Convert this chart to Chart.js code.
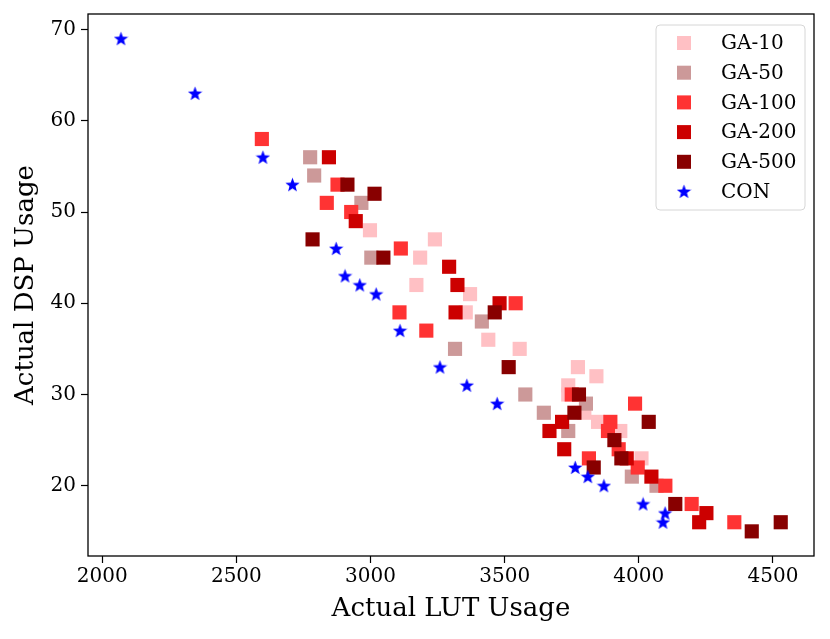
<!DOCTYPE html>
<html>
<head>
<meta charset="utf-8">
<script src="https://cdn.jsdelivr.net/npm/chart.js@4.4.1/dist/chart.umd.min.js"></script>
<style>
  body { margin: 0; background: #fff; }
  #wrap { width: 830px; height: 639px; }
</style>
</head>
<body>
<div id="wrap"><canvas id="myChart" width="830" height="639"></canvas></div>
<script>
// data: [LUT, DSP]
const ga10 = [[2998,48],[3240,47],[3185,45],[3171,42],[3371,41],[3355,39],[3439,36],[3556,35],
  [3773,33],[3842,32],[3737,31],[3737,30],[3797,28],[3848,27],[3931,26],[4010,23]];
const ga50 = [[2775,56],[2790,54],[2966,51],[3003,45],[3415,38],[3315,35],[3577,30],[3646,28],
  [3803,29],[3737,26],[3974,21],[4066,20]];
const ga100 = [[2595,58],[2877,53],[2837,51],[2928,50],[3113,46],[3541,40],[3108,39],[3208,37],
  [3750,30],[3894,27],[3885,26],[3925,24],[3814,23],[3996,22],[3986,29],[4099,20],[4197,18],[4356,16]];
const ga200 = [[2845,56],[2945,49],[3293,44],[3324,42],[3481,40],[3317,39],[3714,27],[3667,26],
  [3722,24],[3955,23],[4047,21],[4252,17],[4225,16]];
const ga500 = [[2914,53],[3015,52],[2784,47],[3048,45],[3463,39],[3515,33],[3777,30],[3760,28],
  [3909,25],[3935,23],[3832,22],[4037,27],[4136,18],[4421,15],[4529,16]];
const con = [[2070,69],[2346,63],[2599,56],[2709,53],[2872,46],[2905,43],[2960,42],[3021,41],
  [3110,37],[3259,33],[3359,31],[3472,29],[3763,22],[3810,21],[3870,20],[4016,18],[4098,17],[4090,16]];

const xTicks = [2000, 2500, 3000, 3500, 4000, 4500];
const yTicks = [20, 30, 40, 50, 60, 70];

const FONT = "'DejaVu Serif', serif";

// filled star for CON (Chart.js 'star' is only strokes)
function makeStar(size, color) {
  const c = document.createElement('canvas');
  c.width = size; c.height = size;
  const g = c.getContext('2d');
  const cx = size / 2, cy = size / 2 + 0.6, R = size / 2, r = R * 0.42;
  g.beginPath();
  for (let i = 0; i < 10; i++) {
    const rad = i % 2 ? r : R;
    const a = -Math.PI / 2 + i * Math.PI / 5;
    g.lineTo(cx + rad * Math.cos(a), cy + rad * Math.sin(a));
  }
  g.closePath();
  g.fillStyle = color;
  g.fill();
  return c;
}
const star = makeStar(15, '#0000ff');

function toPts(arr) {
  return arr.map(p => ({ x: p[0], y: p[1] }));
}

function sq(label, arr, color, order) {
  return {
    label: label,
    data: toPts(arr),
    pointStyle: 'rect',
    pointRadius: 10,
    pointHoverRadius: 10,
    borderWidth: 0,
    backgroundColor: color,
    borderColor: color,
    order: order
  };
}

const datasets = [
  sq('GA-10', ga10, '#ffc0c4', 6),
  sq('GA-50', ga50, '#cc9999', 5),
  sq('GA-100', ga100, '#ff3333', 4),
  sq('GA-200', ga200, '#cc0000', 3),
  sq('GA-500', ga500, '#880000', 2),
  {
    label: 'CON',
    data: toPts(con),
    pointStyle: star,
    pointRadius: 8,
    backgroundColor: '#0000ff',
    borderColor: '#0000ff',
    order: 1
  }
];

// frame + legend drawn inside the plot, like matplotlib
const framePlugin = {
  id: 'frame',
  afterDraw(chart) {
    const { ctx, chartArea: a } = chart;
    ctx.save();
    ctx.strokeStyle = '#000';
    ctx.lineWidth = 1.3;
    ctx.strokeRect(a.left, a.top, a.right - a.left, a.bottom - a.top);

    // legend box
    const bx = 656, by = 25, bw = 149, bh = 185;
    ctx.beginPath();
    ctx.roundRect(bx, by, bw, bh, 4);
    ctx.fillStyle = 'rgba(255,255,255,0.8)';
    ctx.fill();
    ctx.strokeStyle = '#d6d6d6';
    ctx.lineWidth = 1;
    ctx.stroke();

    ctx.font = '20px ' + FONT;
    ctx.textBaseline = 'middle';
    ctx.textAlign = 'left';
    datasets.forEach((d, i) => {
      const y = 43 + i * 29.7;
      if (d.pointStyle === 'rect') {
        ctx.fillStyle = d.backgroundColor;
        ctx.fillRect(677, y - 7, 14, 14);
      } else {
        ctx.drawImage(star, 684 - 7.5, y - 7.5);
      }
      ctx.fillStyle = '#000';
      ctx.fillText(d.label, 721, y + 1);
    });
    ctx.restore();
  }
};

const plain = (v) => String(v);

const ctx = document.getElementById('myChart');
new Chart(ctx, {
  type: 'scatter',
  data: { datasets: datasets },
  options: {
    responsive: false,
    animation: false,
    events: [],
    layout: { padding: { left: 0, right: 16, top: 14, bottom: 0 } },
    plugins: {
      legend: { display: false },
      tooltip: { enabled: false }
    },
    scales: {
      x: {
        type: 'linear',
        min: 1947,
        max: 4653,
        afterBuildTicks: (s) => { s.ticks = xTicks.map(v => ({ value: v })); },
        afterFit: (s) => { s.height = 83; s.paddingLeft = 0; s.paddingRight = 0; },
        grid: { drawOnChartArea: false, drawTicks: true, tickLength: 7, color: '#000', tickWidth: 1.2 },
        border: { display: false },
        ticks: { color: '#000', font: { family: FONT, size: 20 }, padding: 2, maxRotation: 0, callback: plain },
        title: {
          display: true,
          text: 'Actual LUT Usage',
          color: '#000',
          font: { family: FONT, size: 26 },
          padding: { top: 0, bottom: 14 }
        }
      },
      y: {
        type: 'linear',
        min: 12.3,
        max: 71.7,
        afterBuildTicks: (s) => { s.ticks = yTicks.map(v => ({ value: v })); },
        afterFit: (s) => { s.width = 88; s.paddingTop = 0; s.paddingBottom = 0; },
        grid: { drawOnChartArea: false, drawTicks: true, tickLength: 7, color: '#000', tickWidth: 1.2 },
        border: { display: false },
        ticks: { color: '#000', font: { family: FONT, size: 20 }, padding: 5, callback: plain },
        title: {
          display: true,
          text: 'Actual DSP Usage',
          color: '#000',
          font: { family: FONT, size: 26 },
          padding: { top: 11, bottom: 0 }
        }
      }
    }
  },
  plugins: [framePlugin]
});
</script>
</body>
</html>
